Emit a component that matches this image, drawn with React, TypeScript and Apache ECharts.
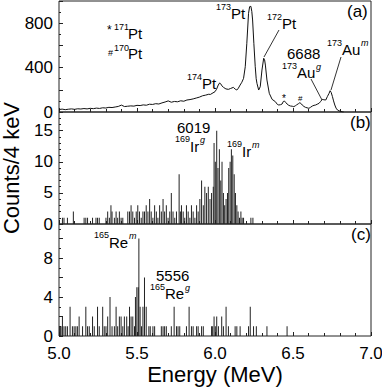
import React, { useEffect, useRef } from "react";
import * as echarts from "echarts";

const FONT = '"Liberation Sans", Arial, Helvetica, sans-serif';

// Panel (a): alpha spectrum (Counts/4 keV)
const spectrumE = [
  5.0, 5.02, 5.04, 5.06, 5.08, 5.1, 5.12, 5.14, 5.16, 5.18, 5.2, 5.22, 5.24, 5.26, 5.28, 5.3,
  5.32, 5.34, 5.36, 5.38, 5.4, 5.42, 5.44, 5.46, 5.48, 5.5, 5.52, 5.54, 5.56, 5.58, 5.6, 5.62,
  5.64, 5.66, 5.68, 5.7, 5.72, 5.74, 5.76, 5.78, 5.8, 5.82, 5.84, 5.86, 5.88, 5.9, 5.92, 5.94,
  5.96, 5.97, 6.0, 6.01, 6.021, 6.03, 6.036, 6.045, 6.054, 6.07, 6.086, 6.1, 6.118, 6.13, 6.14,
  6.15, 6.161, 6.172, 6.183, 6.194, 6.204, 6.215, 6.222, 6.23, 6.236, 6.241, 6.249, 6.258,
  6.264, 6.269, 6.28, 6.29, 6.301, 6.312, 6.318, 6.323, 6.333, 6.348, 6.366, 6.387, 6.4, 6.409,
  6.42, 6.43, 6.438, 6.445, 6.452, 6.462, 6.473, 6.484, 6.495, 6.505, 6.515, 6.522, 6.535,
  6.544, 6.55, 6.559, 6.57, 6.58, 6.59, 6.602, 6.612, 6.624, 6.635, 6.645, 6.655, 6.667, 6.677,
  6.688, 6.698, 6.71, 6.72, 6.731, 6.738, 6.745, 6.753, 6.76, 6.768, 6.776, 6.785, 6.795,
  6.806, 6.815, 6.825,
];
const spectrumCounts = [
  22, 26, 21, 25, 28, 24, 29, 27, 31, 28, 33, 30, 35, 32, 38, 36,
  42, 40, 45, 50, 62, 49, 52, 55, 53, 60, 58, 64, 61, 70, 68, 75,
  72, 82, 90, 100, 88, 95, 92, 101, 97, 108, 112, 118, 126, 134, 146, 152,
  160, 158, 183, 205, 243, 262, 255, 235, 222, 208, 204, 212, 222, 205, 198,
  215, 243, 268, 303, 408, 619, 889, 949, 952, 905, 829, 619, 408,
  300, 258, 198, 228, 378, 484, 470, 423, 288, 168, 114, 93, 68, 63,
  66, 72, 95, 99, 88, 72, 60, 54, 52, 48, 56, 63, 75,
  84, 78, 63, 50, 42, 38, 33, 42, 54, 60, 63, 70, 78, 95,
  114, 110, 108, 138, 168, 192, 175, 138, 100, 63, 35, 18, 10,
  6, 2, 0,
];

// Panel (b): 169Ir correlated events
const irE = [
  5.022, 5.032, 5.054, 5.092, 5.161, 5.172, 5.183, 5.215, 5.237, 5.247, 5.258, 5.301, 5.312,
  5.323, 5.333, 5.34, 5.355, 5.366, 5.376, 5.387, 5.398, 5.409, 5.441, 5.452, 5.462, 5.473,
  5.484, 5.495, 5.505, 5.516, 5.527, 5.538, 5.548, 5.559, 5.57, 5.581, 5.591, 5.602, 5.613,
  5.624, 5.634, 5.645, 5.656, 5.667, 5.677, 5.688, 5.699, 5.71, 5.72, 5.731, 5.742, 5.753,
  5.77, 5.778, 5.785, 5.796, 5.806, 5.817, 5.828, 5.839, 5.849, 5.86, 5.871, 5.882, 5.892,
  5.903, 5.914, 5.925, 5.935, 5.946, 5.957, 5.968, 5.978, 5.989, 5.994, 6.002, 6.011, 6.019,
  6.028, 6.037, 6.045, 6.054, 6.062, 6.071, 6.08, 6.088, 6.097, 6.105, 6.114, 6.123, 6.131,
  6.14, 6.148, 6.157, 6.166, 6.174, 6.183, 6.23, 6.243,
];
const irCounts = [
  1, 1, 1, 2, 1, 1, 1, 1, 1, 1, 1, 1, 2,
  1, 3, 2, 1, 2, 1, 2, 1, 1, 2, 2, 3, 2,
  1, 2, 3, 2, 1, 2, 2, 3, 2, 4, 2, 1, 3,
  2, 1, 3, 2, 4, 2, 3, 1, 2, 5, 2, 1, 2,
  8, 2, 3, 2, 1, 3, 2, 1, 3, 2, 1, 3, 2,
  4, 7, 3, 6, 5, 6, 4, 5, 6, 13, 10, 15, 9,
  12, 7, 10, 5, 3, 4, 5, 9, 10, 12, 11, 8, 5,
  3, 2, 1, 2, 1, 1, 1, 1,
];

// Panel (c): 165Re correlated events
const reE = [
  5.004, 5.008, 5.013, 5.022, 5.032, 5.043, 5.054, 5.071, 5.086, 5.097, 5.108, 5.118, 5.129,
  5.151, 5.172, 5.183, 5.194, 5.215, 5.226, 5.247, 5.258, 5.28, 5.29, 5.301, 5.312, 5.327,
  5.34, 5.355, 5.366, 5.376, 5.387, 5.398, 5.409, 5.419, 5.434, 5.443, 5.452, 5.462, 5.473,
  5.484, 5.49, 5.499, 5.508, 5.512, 5.52, 5.529, 5.538, 5.548, 5.559, 5.576, 5.585, 5.602,
  5.613, 5.656, 5.667, 5.677, 5.688, 5.72, 5.738, 5.753, 5.763, 5.774, 5.817, 5.834, 5.849,
  5.86, 5.882, 5.892, 5.914, 5.925, 5.978, 5.985, 5.994, 6.002, 6.011, 6.022, 6.043, 6.054,
  6.071, 6.086, 6.129, 6.14, 6.161, 6.215, 6.226, 6.247, 6.265, 6.333, 6.462,
];
const reCounts = [
  1, 1, 1, 2, 1, 1, 1, 3, 1, 1, 1, 1, 2,
  1, 3, 1, 1, 2, 1, 3, 1, 3, 1, 1, 2, 4,
  1, 1, 3, 1, 2, 2, 1, 2, 2, 1, 3, 2, 2,
  1, 4, 5, 5, 10, 3, 1, 3, 6, 3, 1, 1, 1,
  1, 1, 1, 1, 1, 1, 3, 1, 1, 1, 1, 3, 1,
  1, 1, 1, 1, 1, 1, 1, 2, 1, 2, 1, 2, 1,
  3, 1, 1, 1, 1, 1, 3, 1, 1, 1, 1,
];

const xTickLabels = ["5.0", "5.5", "6.0", "6.5", "7.0"];

const pairs = (xs: number[], ys: number[]) => xs.map((x, i) => [x, ys[i]]);

function sup(x: number, y: number, t: string, size = 9, italic = false) {
  return {
    type: "text",
    x,
    y,
    z: 10,
    style: {
      text: t,
      fontSize: size,
      fontFamily: FONT,
      fontStyle: italic ? "italic" : "normal",
      fill: "#000",
      align: "left",
      verticalAlign: "middle",
    },
  };
}
function txt(x: number, y: number, t: string, size = 15) {
  return sup(x, y, t, size);
}
function leader(x1: number, y1: number, x2: number, y2: number) {
  return {
    type: "line",
    shape: { x1, y1, x2, y2 },
    style: { stroke: "#000", lineWidth: 0.8 },
  };
}

export default function App() {
  const ref = useRef<HTMLDivElement>(null);
  useEffect(() => {
    if (!ref.current) return;
    const chart = echarts.init(ref.current, undefined, { renderer: "svg" });
    const grids = [
      { left: 59, right: 11, top: 1, height: 111 },
      { left: 59, right: 11, top: 112, height: 112 },
      { left: 59, right: 11, top: 224, height: 112 },
    ].map((g) => ({
      ...g,
      show: true,
      borderColor: "#222",
      borderWidth: 1,
      containLabel: false,
      outerBoundsMode: "none",
    }));

    const xAxes = [0, 1, 2].map((i) => ({
      gridIndex: i,
      type: "value",
      min: 5,
      max: 7,
      interval: 0.5,
      axisLine: { show: false },
      axisTick: { show: true, inside: true, length: 4, lineStyle: { color: "#222" } },
      minorTick: { show: true, splitNumber: 5, length: 3, lineStyle: { color: "#222" } },
      splitLine: { show: false },
      axisLabel: {
        show: i === 2,
        fontSize: 17,
        fontFamily: FONT,
        color: "#000",
        margin: 9,
        formatter: (v: number) => {
          const idx = Math.round((v - 5) / 0.5);
          return xTickLabels[idx] ?? "";
        },
      },
      name: i === 2 ? "Energy (MeV)" : "",
      nameLocation: "middle",
      nameGap: 27,
      nameTextStyle: { fontSize: 22, fontFamily: FONT, color: "#000" },
    }));

    const yDefs = [
      { max: 1000, interval: 200, show: 400, minor: 2 },
      { max: 18, interval: 5, show: 5, minor: 5 },
      { max: 11.5, interval: 2, show: 4, minor: 2 },
    ];
    const yAxes = yDefs.map((d, i) => ({
      gridIndex: i,
      type: "value",
      min: 0,
      max: d.max,
      interval: d.interval,
      axisLine: { show: false },
      axisTick: { show: true, inside: true, length: 4, lineStyle: { color: "#222" } },
      minorTick: { show: true, splitNumber: d.minor, length: 2, lineStyle: { color: "#222" } },
      splitLine: { show: false },
      axisLabel: {
        fontSize: 17,
        fontFamily: FONT,
        color: "#000",
        margin: 6,
        formatter: (v: number) => (Math.abs(v % d.show) < 1e-9 ? String(v) : ""),
      },
      name: i === 1 ? "Counts/4 keV" : "",
      nameLocation: "middle",
      nameGap: 37,
      nameTextStyle: { fontSize: 22, fontFamily: FONT, color: "#000" },
    }));

    const graphic = [
      // panel (a)
      txt(347, 11, "(a)", 17),
      sup(107, 30, "*", 12),
      sup(114, 27, "171"),
      txt(128, 33, "Pt"),
      sup(108, 53, "#", 9),
      sup(114, 48, "170"),
      txt(128, 53, "Pt"),
      sup(187, 77, "174"),
      txt(202, 83, "Pt"),
      sup(216, 7, "173"),
      txt(231, 13, "Pt"),
      sup(267, 17, "172"),
      txt(282, 23, "Pt"),
      leader(279, 30, 264, 57),
      txt(287, 53, "6688", 15),
      sup(282, 66, "173"),
      txt(297, 72, "Au"),
      sup(316, 67, "g", 9, true),
      leader(311, 79, 322, 100),
      sup(327, 43, "173"),
      txt(342, 49, "Au"),
      sup(361, 43, "m", 9, true),
      leader(341, 57, 331, 90),
      sup(282, 98, "*", 10),
      sup(298, 98, "#", 8),
      // panel (b)
      txt(350, 122, "(b)", 17),
      txt(177, 127, "6019", 15),
      sup(175, 139, "169"),
      txt(190, 146, "Ir"),
      sup(200, 140, "g", 9, true),
      sup(227, 144, "169"),
      txt(242, 151, "Ir"),
      sup(252, 145, "m", 9, true),
      // panel (c)
      txt(351, 234, "(c)", 17),
      sup(94, 235, "165"),
      txt(109, 242, "Re"),
      sup(129, 236, "m", 9, true),
      txt(156, 275, "5556", 15),
      sup(150, 287, "165"),
      txt(165, 293, "Re"),
      sup(185, 288, "g", 9, true),
    ];

    chart.setOption({
      animation: false,
      grid: grids,
      xAxis: xAxes,
      yAxis: yAxes,
      graphic,
      series: [
        {
          type: "line",
          xAxisIndex: 0,
          yAxisIndex: 0,
          data: pairs(spectrumE, spectrumCounts),
          showSymbol: false,
          lineStyle: { color: "#111", width: 1 },
          silent: true,
        },
        {
          type: "bar",
          xAxisIndex: 1,
          yAxisIndex: 1,
          data: pairs(irE, irCounts),
          barWidth: 1,
          itemStyle: { color: "#222" },
          silent: true,
        },
        {
          type: "bar",
          xAxisIndex: 2,
          yAxisIndex: 2,
          data: pairs(reE, reCounts),
          barWidth: 1,
          itemStyle: { color: "#222" },
          silent: true,
        },
      ],
    });
    return () => chart.dispose();
  }, []);
  return <div ref={ref} style={{ width: 382, height: 387, position: "absolute", left: 0, top: 0 }} />;
}
